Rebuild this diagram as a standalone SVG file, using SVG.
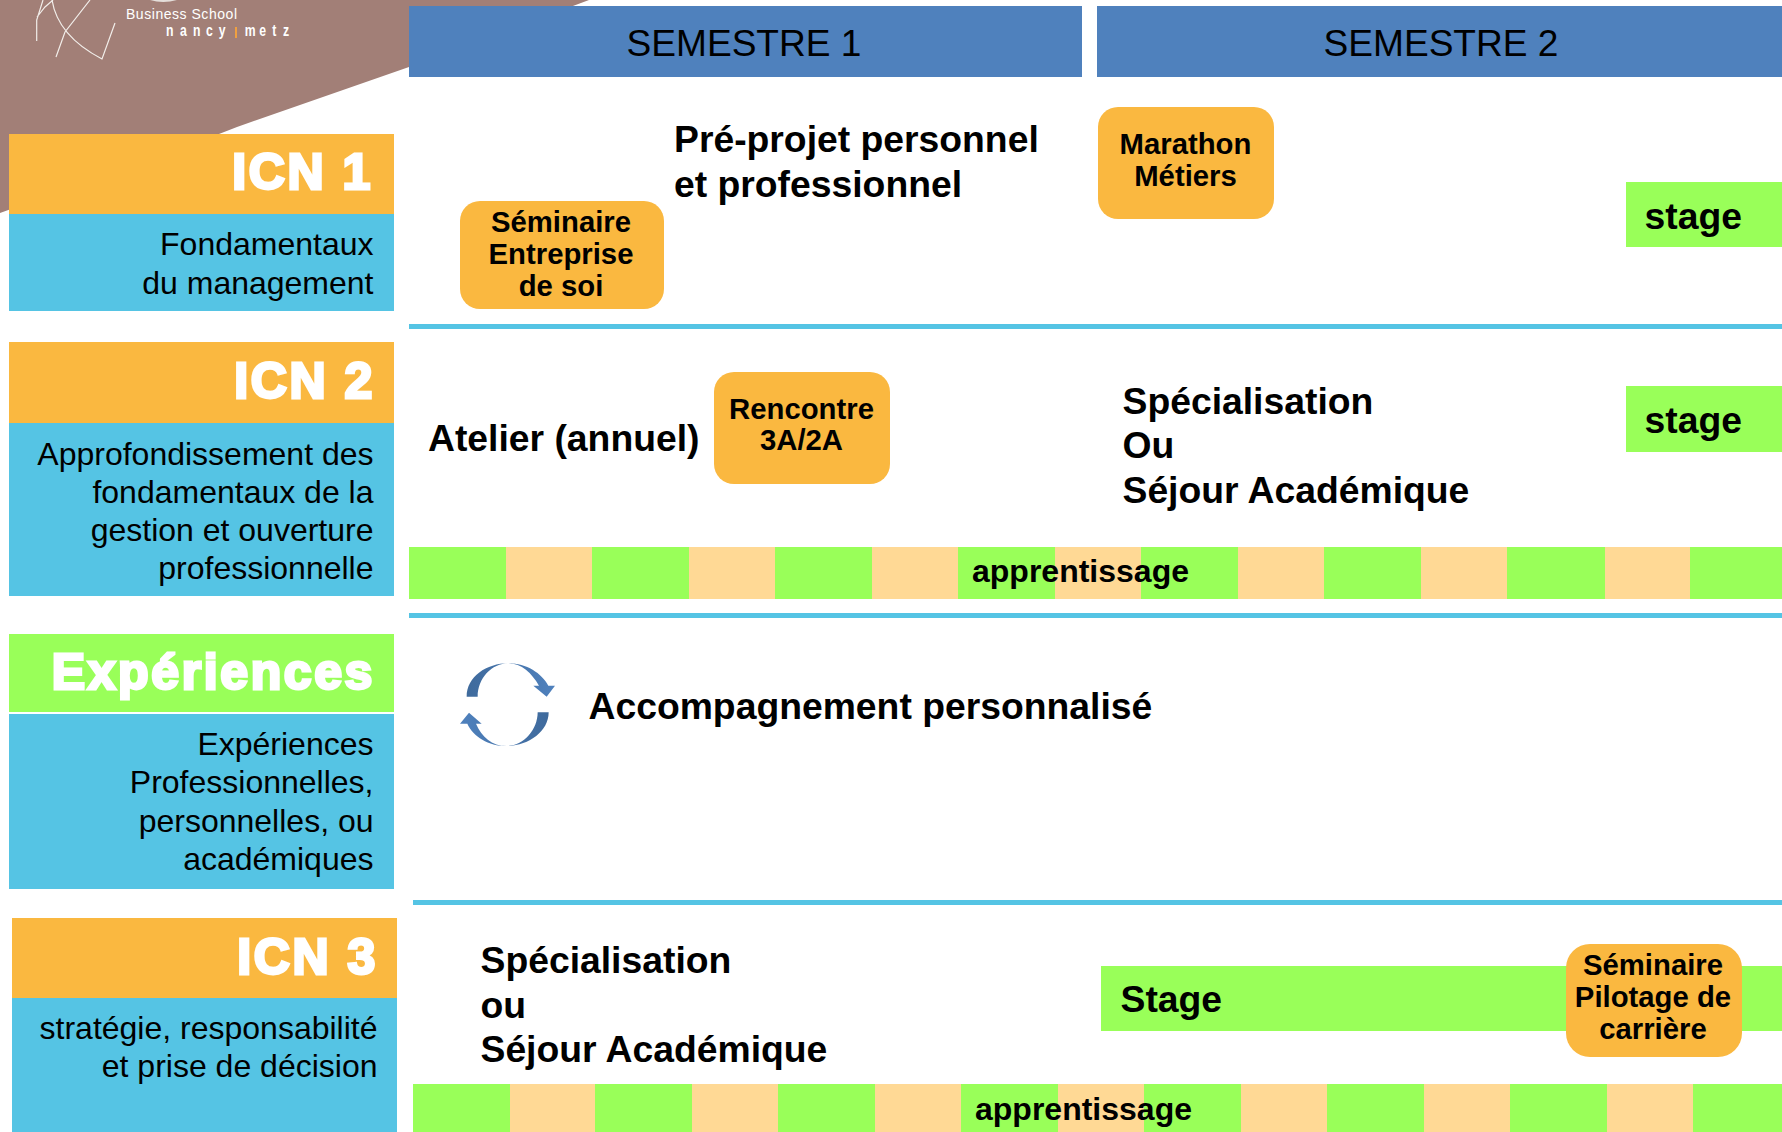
<svg xmlns="http://www.w3.org/2000/svg" width="1782" height="1132" viewBox="0 0 1782 1132">
<style>
text{font-family:"Liberation Sans",Arial,sans-serif;fill:#000}
.hd{font-size:37.1px;text-anchor:middle}
.tt{font-size:50px;font-weight:700;fill:#fff;stroke:#fff;stroke-width:3px;text-anchor:end;letter-spacing:2.6px}
.sub{font-size:32px;text-anchor:end}
.b{font-size:37.3px;font-weight:700}
.n{font-size:29.3px;font-weight:700;text-anchor:middle}
.ap{font-size:32px;font-weight:700}
.lg{fill:#fff;font-size:17px;font-weight:700}
.or{fill:#FAB840}.cy{fill:#55C4E4}.gr{fill:#99FF59}.lo{fill:#FFD995}.bl{fill:#4F81BD}
</style>
<defs>
<linearGradient id="a1" x1="0" x2="1" y1="0" y2="0"><stop offset="0" stop-color="#3F6A9C"/><stop offset="1" stop-color="#4F81BD"/></linearGradient>
<linearGradient id="a2" x1="1" x2="0" y1="0" y2="0"><stop offset="0" stop-color="#3F6A9C"/><stop offset="1" stop-color="#4F81BD"/></linearGradient>
</defs>
<rect width="1782" height="1132" fill="#fff"/>
<g id="background"><polygon points="0,0 589,0 409,67 237,127 219,134 0,213" fill="#A27F77"/></g>
<g id="logo">
<path d="M36.7,41 L36.7,20 L43,0 M37,17 L45,7 L53,0 M52,0 C56,25 75,45 102,59 L115,23 M56,57 L65,32 L90,0" fill="none" stroke="#F2EEEA" stroke-width="1.2"/>
<path d="M150,0 Q163,4 177,0 Z" fill="#E4DEDA"/>
<text x="126" y="19" font-size="14" style="fill:#fff" textLength="111">Business School</text>
<text class="lg" transform="translate(0,36) scale(.72,1)" x="230.6 250 268 286 304" y="0">nancy</text>
<rect x="235" y="27" width="2" height="11" fill="#F0A040"/>
<text class="lg" transform="translate(0,36) scale(.72,1)" x="340 360 378 393" y="0">metz</text>
</g>
<g id="semestre1"><rect class="bl" x="409" y="6" width="673" height="71"/><text class="hd" x="744" y="56">SEMESTRE 1</text></g>
<g id="semestre2"><rect class="bl" x="1097" y="6" width="685" height="71"/><text class="hd" x="1441" y="56">SEMESTRE 2</text></g>

<g id="icn1"><rect class="or" x="9" y="134" width="385" height="80"/><rect class="cy" x="9" y="214" width="385" height="97"/>
<text class="tt" x="373" y="189">ICN 1</text>
<text class="sub" x="373.5" y="255">Fondamentaux</text><text class="sub" x="373.5" y="294">du management</text></g>
<g id="icn2"><rect class="or" x="9" y="342" width="385" height="81"/><rect class="cy" x="9" y="423" width="385" height="173"/>
<text class="tt" x="375" y="398">ICN 2</text>
<text class="sub" x="373.5" y="464.500">Approfondissement des</text><text class="sub" x="373.5" y="502.500">fondamentaux de la</text><text class="sub" x="373.5" y="540.500">gestion et ouverture</text><text class="sub" x="373.5" y="579">professionnelle</text></g>
<g id="experiences"><rect class="gr" x="9" y="634" width="385" height="78"/><rect class="cy" x="9" y="714" width="385" height="175"/>
<text class="tt" x="375" y="689">Expériences</text>
<text class="sub" x="373.5" y="755">Expériences</text><text class="sub" x="373.5" y="793">Professionnelles,</text><text class="sub" x="373.5" y="832">personnelles, ou</text><text class="sub" x="373.5" y="870">académiques</text></g>
<g id="icn3"><rect class="or" x="12" y="918" width="385" height="80"/><rect class="cy" x="12" y="998" width="385" height="134"/>
<text class="tt" x="378" y="974">ICN 3</text>
<text class="sub" x="377.500" y="1039">stratégie, responsabilité</text><text class="sub" x="377.500" y="1077">et prise de décision</text></g>

<g id="separators"><rect class="cy" x="409" y="324" width="1373" height="5"/><rect class="cy" x="409" y="613" width="1373" height="5"/><rect class="cy" x="413" y="900" width="1369" height="5"/></g>

<g id="preprojet"><text class="b" x="674" y="152">Pré-projet personnel</text><text class="b" x="674" y="197">et professionnel</text></g>
<g id="seminaire-entreprise"><rect class="or" x="460" y="201" width="204" height="108" rx="20"/><text class="n" x="561" y="232">Séminaire</text><text class="n" x="561" y="264">Entreprise</text><text class="n" x="561" y="296">de soi</text></g>
<g id="marathon"><rect class="or" x="1098" y="107" width="176" height="112" rx="20"/><text class="n" x="1185.500" y="154">Marathon</text><text class="n" x="1185.500" y="186">Métiers</text></g>
<g id="stage1"><rect class="gr" x="1626" y="182" width="156" height="65"/><text class="b" x="1644.500" y="229">stage</text></g>

<g id="atelier"><text class="b" x="428" y="451">Atelier (annuel)</text></g>
<g id="rencontre"><rect class="or" x="714" y="372" width="176" height="112" rx="20"/><text class="n" x="801.500" y="419">Rencontre</text><text class="n" x="801.500" y="450">3A/2A</text></g>
<g id="specialisation2"><text class="b" x="1122.500" y="414">Spécialisation</text><text class="b" x="1122.500" y="458">Ou</text><text class="b" x="1122.500" y="503">Séjour Académique</text></g>
<g id="stage2"><rect class="gr" x="1626" y="386" width="156" height="66"/><text class="b" x="1644.500" y="433">stage</text></g>

<g id="apprentissage1">
<rect class="gr" x="409" y="547" width="1373" height="52"/>
<rect class="lo" x="506" y="547" width="86" height="52"/><rect class="lo" x="689" y="547" width="86" height="52"/><rect class="lo" x="872" y="547" width="86" height="52"/><rect class="lo" x="1055" y="547" width="86" height="52"/><rect class="lo" x="1238" y="547" width="86" height="52"/><rect class="lo" x="1421" y="547" width="86" height="52"/><rect class="lo" x="1605" y="547" width="85" height="52"/>
<text class="ap" x="972" y="582">apprentissage</text></g>

<g id="cycle" transform="translate(420,620) scale(.33333)">
<path fill="url(#a1)" d="M140,230 C140,170 200,130 265,130 C320,130 365,160 385,197 L405,197 L380,230 L340,197 L357,197 C335,160 305,130 265,130 C215,130 173,175 173,230 Z"/>
<path fill="url(#a2)" d="M386,277 C386,335 325,378 260,378 C205,378 160,350 142,311 L120,311 L147,278 L185,311 L168,311 C185,350 215,378 260,378 C310,378 353,330 353,277 Z"/>
</g>
<g id="accompagnement"><text class="b" x="588.500" y="719">Accompagnement personnalisé</text></g>

<g id="specialisation3"><text class="b" x="480.500" y="973">Spécialisation</text><text class="b" x="480.500" y="1018">ou</text><text class="b" x="480.500" y="1062">Séjour Académique</text></g>
<g id="stage3"><rect class="gr" x="1101" y="966" width="681" height="65"/><text class="b" x="1120.500" y="1012">Stage</text></g>
<g id="seminaire-pilotage"><rect class="or" x="1566" y="944" width="176" height="113" rx="24"/><text class="n" x="1653" y="975">Séminaire</text><text class="n" x="1653" y="1007">Pilotage de</text><text class="n" x="1653" y="1039">carrière</text></g>
<g id="apprentissage2">
<rect class="gr" x="413" y="1084" width="1369" height="48"/>
<rect class="lo" x="510" y="1084" width="85" height="48"/><rect class="lo" x="692" y="1084" width="86" height="48"/><rect class="lo" x="875" y="1084" width="86" height="48"/><rect class="lo" x="1058" y="1084" width="86" height="48"/><rect class="lo" x="1241" y="1084" width="86" height="48"/><rect class="lo" x="1424" y="1084" width="86" height="48"/><rect class="lo" x="1607" y="1084" width="86" height="48"/>
<text class="ap" x="975" y="1120">apprentissage</text></g>
</svg>
